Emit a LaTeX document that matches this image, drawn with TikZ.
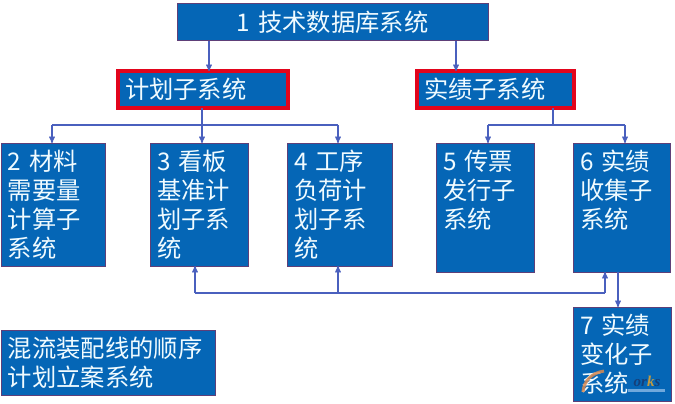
\documentclass[tikz,border=0pt]{standalone}
\usepackage{fontspec}
\setmainfont{Noto Sans CJK SC}
\newfontfamily\markfont{Liberation Serif}
\usetikzlibrary{arrows}
\definecolor{boxblue}{HTML}{0566B6}
\definecolor{edgepurple}{HTML}{5E3F78}
\definecolor{flowblue}{HTML}{4A60BE}
\definecolor{markred}{HTML}{E2051C}
\definecolor{boxtext}{HTML}{F0FBFF}
\definecolor{markgold}{HTML}{C29A40}
\definecolor{markdark}{HTML}{163F78}
\definecolor{markbar}{HTML}{6FA8DC}
\definecolor{markswoosh}{HTML}{D98A50}
\tikzset{
  sysbox/.style 2 args={rectangle,draw=edgepurple,fill=boxblue,line width=1pt,text=boxtext,
    align=left,outer sep=0pt,inner ysep=0pt,inner xsep=7pt,text width=#1-14pt,
    text height=27pt,text depth=#2-27pt,font=\fontsize{24.3}{29}\selectfont},
  headbox/.style 2 args={sysbox={#1}{#2},draw=markred,line width=4.5pt},
  flow/.style={->,>=stealth',draw=flowblue,line width=1.3pt},
  trunk/.style={draw=flowblue,line width=1.3pt},
}
\begin{document}
\begin{tikzpicture}[x=1pt,y=-1pt]
  \useasboundingbox (0,0) rectangle (675,404);

  \node[sysbox={311pt}{37pt},align=center,text height=28pt,text depth=9pt] (tech) at (332.5,22.5) {1 技术数据库系统};
  \node[headbox={170pt}{37pt},text height=28pt,text depth=9pt] (plan) at (203,89.5) {计划子系统};
  \node[headbox={157pt}{37pt},text height=28pt,text depth=9pt] (actual) at (495.5,89.5) {实绩子系统};

  \node[sysbox={104pt}{123pt}] (s2) at (53,204.5) {2 材料\\需要量\\计算子\\系统};
  \node[sysbox={98pt}{123pt}] (s3) at (199,204.5) {3 看板\\基准计\\划子系\\统};
  \node[sysbox={105pt}{123pt}] (s4) at (339.5,204.5) {4 工序\\负荷计\\划子系\\统};
  \node[sysbox={98pt}{129pt}] (s5) at (485,207.5) {5 传票\\发行子\\系统};
  \node[sysbox={97pt}{129pt}] (s6) at (621.5,207.5) {6 实绩\\收集子\\系统};
  \node[sysbox={98pt}{94pt}] (s7) at (622,354) {7 实绩\\变化子\\系统};
  \node[sysbox={214pt}{65pt}] (mix) at (108,362.5) {混流装配线的顺序\\计划立案系统};

  % mark in the corner of box 7
  \draw[markswoosh,line width=3pt,opacity=.85] (583,392) .. controls (584,380) and (592,373) .. (604,371);
  \fill[markbar] (628,389) rectangle (665,392);
  \node[font=\markfont\bfseries\itshape\fontsize{15}{15}\selectfont,text=markdark,inner sep=0pt] (mark) at (647,381) {or\textcolor{markgold}{k}s};

  \coordinate (xa) at (209,0);
  \coordinate (xb) at (456,0);
  \coordinate (xc) at (202,125);
  \coordinate (xd) at (553,125);
  \coordinate (xe) at (195,293);
  \coordinate (xf) at (605,293);
  \coordinate (xg) at (618,0);
  \coordinate (xh) at (338,293);
  \coordinate (x2) at (52,125);
  \coordinate (x4) at (338,125);
  \coordinate (x5) at (488,125);
  \coordinate (x6) at (625,125);

  \draw[flow] (tech.south -| xa) -- (plan.north -| xa);
  \draw[flow] (tech.south -| xb) -- (actual.north -| xb);

  \draw[trunk] (plan.south -| xc) -- (xc);
  \draw[trunk] (x2) -- (x4);
  \draw[flow] (x2) -- (s2.north -| x2);
  \draw[flow] (xc) -- (s3.north -| xc);
  \draw[flow] (x4) -- (s4.north -| x4);

  \draw[trunk] (actual.south -| xd) -- (xd);
  \draw[trunk] (x5) -- (x6);
  \draw[flow] (x5) -- (s5.north -| x5);
  \draw[flow] (x6) -- (s6.north -| x6);

  \draw[trunk] (xe) -- (xf);
  \draw[flow] (xe) -- (s3.south -| xe);
  \draw[flow] (xh) -- (s4.south -| xh);
  \draw[flow] (xf) -- (s6.south -| xf);
  \draw[flow] (s6.south -| xg) -- (s7.north -| xg);
\end{tikzpicture}
\end{document}
